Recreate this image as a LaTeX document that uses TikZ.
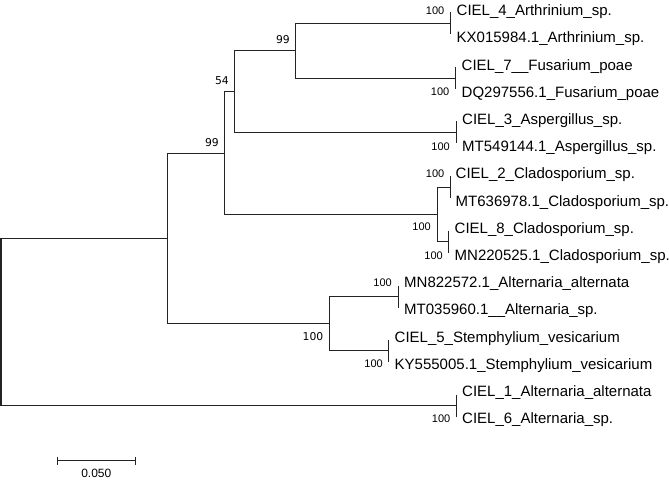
\documentclass[tikz,border=0pt]{standalone}
\usepackage{fontspec}
\setmainfont{Liberation Sans}
\newfontfamily\dvs{DejaVu Sans}
\definecolor{linec}{RGB}{35,35,35}
\begin{document}
\begin{tikzpicture}[x=1pt,y=-1pt,
  br/.style={draw=linec, line width=1.3pt},
  leaf/.style={anchor=base west, inner sep=0pt, font=\fontsize{15}{18}\selectfont},
  bs/.style={anchor=base east, inner sep=0pt, font=\fontsize{11}{13}\selectfont},
  bsb/.style={anchor=base east, inner sep=0pt, font=\dvs\fontsize{10.8}{12}\selectfont},
]
\useasboundingbox (0,0) rectangle (669,481);
% tree nodes
\coordinate (root) at (1,321.5);
\coordinate (nX) at (167.5,238.5);
\coordinate (nB) at (224.5,153.5);
\coordinate (n54) at (234.5,91.5);
\coordinate (nA) at (295.5,50.5);
\coordinate (pArth) at (450.5,23.5);
\coordinate (pFus) at (455.5,78.5);
\coordinate (pAsp) at (456.5,132.5);
\coordinate (nClad) at (437.5,214.5);
\coordinate (pC2) at (450.5,187.5);
\coordinate (pC8) at (448.5,241.5);
\coordinate (nAlt) at (329.5,323.5);
\coordinate (pAlt) at (398.5,296.5);
\coordinate (pSte) at (388.5,350.5);
\coordinate (pC1) at (456.5,405.5);
% branches
\draw[br] (nX) -| (root) |- (pC1);
\draw[br] (nB) -| (nX) |- (nAlt);
\draw[br] (n54) -| (nB) |- (nClad);
\draw[br] (nA) -| (n54) |- (pAsp);
\draw[br] (pArth) -| (nA) |- (pFus);
\draw[br] (pC2) -| (nClad) |- (pC8);
\draw[br] (pAlt) -| (nAlt) |- (pSte);
% tip bars
\foreach \p in {pArth,pFus,pAsp,pC2,pC8,pAlt,pSte,pC1}
  \draw[br] (\p) ++(0,-11) -- ++(0,22);
% leaf labels
\node[leaf] (l1) at (456.5,15.7) {CIEL\_4\_Arthrinium\_sp.};
\node[leaf] (l2) at (456.5,42.9) {KX015984.1\_Arthrinium\_sp.};
\node[leaf] (l3) at (461.5,70.1) {CIEL\_7\_\_Fusarium\_poae};
\node[leaf] (l4) at (461.5,97.3) {DQ297556.1\_Fusarium\_poae};
\node[leaf] (l5) at (462,124.5) {CIEL\_3\_Aspergillus\_sp.};
\node[leaf] (l6) at (462,151.7) {MT549144.1\_Aspergillus\_sp.};
\node[leaf] (l7) at (455.5,178.9) {CIEL\_2\_Cladosporium\_sp.};
\node[leaf] (l8) at (455.5,206.1) {MT636978.1\_Cladosporium\_sp.};
\node[leaf] (l9) at (454.5,233.3) {CIEL\_8\_Cladosporium\_sp.};
\node[leaf] (l10) at (454.5,260.5) {MN220525.1\_Cladosporium\_sp.};
\node[leaf] (l11) at (404,287.7) {MN822572.1\_Alternaria\_alternata};
\node[leaf] (l12) at (404,314.9) {MT035960.1\_\_Alternaria\_sp.};
\node[leaf] (l13) at (394.5,342.1) {CIEL\_5\_Stemphylium\_vesicarium};
\node[leaf] (l14) at (394.5,369.3) {KY555005.1\_Stemphylium\_vesicarium};
\node[leaf] (l15) at (462,396.5) {CIEL\_1\_Alternaria\_alternata};
\node[leaf] (l16) at (462,423.7) {CIEL\_6\_Alternaria\_sp.};
% bootstrap values
\node[bs] (b1) at (444.5,14.2) {100};
\node[bs] (b2) at (449.5,95.8) {100};
\node[bs] (b3) at (450,150.2) {100};
\node[bs] (b4) at (444.5,177.4) {100};
\node[bs] (b5) at (431,230.2) {100};
\node[bs] (b6) at (443,259) {100};
\node[bs] (b7) at (392,286.2) {100};
\node[bs] (b8) at (383,367.8) {100};
\node[bs] (b9) at (450.5,422.2) {100};
\node[bsb] (b10) at (290,44) {99};
\node[bsb] (b11) at (229,85) {54};
\node[bsb] (b12) at (219,146.7) {99};
\node[bsb] (b13) at (323.5,340) {100};
% scale bar
\coordinate (sbL) at (57.5,460.5);
\coordinate (sbR) at (135.5,460.5);
\draw[draw=linec, line width=1.2pt] (sbL) -- (sbR);
\draw[draw=linec, line width=1.2pt] (sbL) ++(0,-4) -- ++(0,8);
\draw[draw=linec, line width=1.2pt] (sbR) ++(0,-4) -- ++(0,8);
\node[anchor=base, inner sep=0pt, font=\fontsize{12}{14}\selectfont] (sbt) at (96.3,477) {0.050};
\end{tikzpicture}
\end{document}
